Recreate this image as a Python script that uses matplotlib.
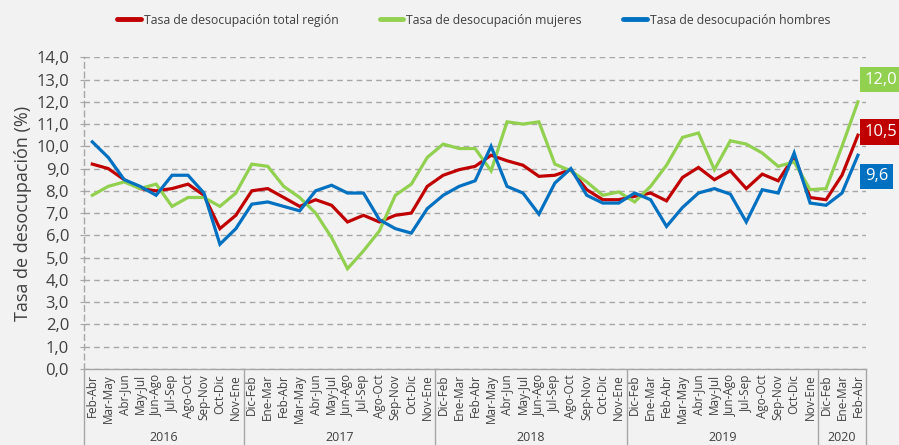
import matplotlib
matplotlib.use("Agg")
import matplotlib.pyplot as plt
from matplotlib.lines import Line2D
import matplotlib.transforms as mtransforms

plt.rcParams['font.family'] = ['Open Sans', 'DejaVu Sans']

# ---------------- data ----------------
periodos = (["Feb-Abr", "Mar-May", "Abr-Jun", "May-Jul", "Jun-Ago", "Jul-Sep",
             "Ago-Oct", "Sep-Nov", "Oct-Dic", "Nov-Ene"] +
            ["Dic-Feb", "Ene-Mar", "Feb-Abr", "Mar-May", "Abr-Jun", "May-Jul",
             "Jun-Ago", "Jul-Sep", "Ago-Oct", "Sep-Nov", "Oct-Dic", "Nov-Ene"] * 3 +
            ["Dic-Feb", "Ene-Mar", "Feb-Abr"])
anios = ["2016", "2017", "2018", "2019", "2020"]
periodos_por_anio = [10, 12, 12, 12, 3]

total = [9.2, 9.0, 8.5, 8.1, 8.0, 8.1, 8.3, 7.8, 6.3, 6.9,
         8.0, 8.1, 7.7, 7.3, 7.6, 7.35, 6.6, 6.9, 6.6, 6.9, 7.0, 8.2,
         8.7, 8.95, 9.1, 9.6, 9.35, 9.15, 8.65, 8.7, 8.95, 8.05, 7.6, 7.6,
         7.75, 7.9, 7.55, 8.6, 9.05, 8.5, 8.9, 8.1, 8.75, 8.45, 9.55, 7.7,
         7.6, 8.7, 10.5]
mujeres = [7.8, 8.2, 8.4, 8.1, 8.3, 7.3, 7.7, 7.7, 7.3, 7.9,
           9.2, 9.1, 8.2, 7.7, 7.0, 5.9, 4.5, 5.3, 6.2, 7.8, 8.3, 9.5,
           10.1, 9.9, 9.9, 8.9, 11.1, 11.0, 11.1, 9.2, 8.9, 8.4, 7.8, 7.95,
           7.5, 8.2, 9.15, 10.4, 10.6, 8.95, 10.25, 10.1, 9.7, 9.1, 9.3, 8.05,
           8.1, 10.0, 12.0]
hombres = [10.2, 9.5, 8.5, 8.2, 7.8, 8.7, 8.7, 7.9, 5.6, 6.3,
           7.4, 7.5, 7.3, 7.1, 8.0, 8.25, 7.9, 7.9, 6.7, 6.3, 6.1, 7.2,
           7.8, 8.2, 8.45, 10.0, 8.2, 7.9, 6.95, 8.35, 9.0, 7.8, 7.45, 7.45,
           7.9, 7.6, 6.4, 7.25, 7.9, 8.1, 7.85, 6.6, 8.05, 7.9, 9.7, 7.45,
           7.35, 7.9, 9.6]

series_nombres = ["Tasa de desocupación total región",
                  "Tasa de desocupación mujeres",
                  "Tasa de desocupación hombres"]
colores = ["#C00000", "#92D050", "#0070C0"]
series = [total, mujeres, hombres]
label_y = [10.65, 13.0, 8.65]   # vertical placement of the end labels

# ---------------- figure ----------------
BG = "#F2F2F2"
TXT = "#404040"
GRID = "#A6A6A6"
fig = plt.figure(figsize=(8.99, 4.45), dpi=100, facecolor=BG)
ax_left, ax_bottom, ax_w, ax_h = 0.0938, 0.1712, 0.8694, 0.7000
ax = fig.add_axes([ax_left, ax_bottom, ax_w, ax_h], facecolor=BG)

x = list(range(len(periodos)))
for vals, col in zip(series, colores):
    ax.plot(x, vals, color=col, lw=2.3, solid_joinstyle='miter', zorder=3,
            clip_on=False)

ax.set_xlim(-0.5, len(periodos) - 0.5)
ax.set_ylim(0, 14)
ax.set_yticks(range(0, 15))
ax.set_yticklabels([f"{v:.1f}".replace(".", ",") for v in range(0, 15)],
                   fontsize=12, color=TXT)
ax.yaxis.grid(True, color=GRID, ls=(0, (4, 3)), lw=1.0)
ax.set_axisbelow(True)
ax.tick_params(axis='y', length=3, color=GRID, pad=8)

ax.set_xticks(x)
ax.set_xticklabels(periodos, rotation=90, fontsize=8.5, color=TXT, va='top')
ax.tick_params(axis='x', length=0, pad=4)

for s in ['top', 'right']:
    ax.spines[s].set_visible(False)
ax.spines['left'].set_color(GRID)
ax.spines['left'].set_linestyle((0, (4, 3)))
ax.spines['left'].set_linewidth(1.0)
ax.spines['bottom'].set_color(GRID)
ax.spines['bottom'].set_linewidth(1.0)

ax.set_ylabel("Tasa de desocupación (%)", fontsize=13, color=TXT, labelpad=3)

# year group separators and labels
trans = mtransforms.blended_transform_factory(ax.transData, fig.transFigure)
bounds = [-0.5]
for n in periodos_por_anio:
    bounds.append(bounds[-1] + n)
for b in bounds:
    fig.add_artist(Line2D([b, b], [0, ax_bottom], transform=trans,
                          color=GRID, lw=1.0))
for i, a in enumerate(anios):
    c = (bounds[i] + bounds[i + 1]) / 2
    fig.text(c, 0.016, a, transform=trans, ha='center', va='center',
             fontsize=9, color=TXT)

# end labels
for vals, col, ly in zip(series, colores, label_y):
    ax.annotate(f"{vals[-1]:.1f}".replace(".", ","),
                xy=(len(vals) - 1, ly), xytext=(5, 0), textcoords='offset points',
                ha='left', va='center', fontsize=12, color='white',
                annotation_clip=False,
                bbox=dict(boxstyle='square,pad=0.28', fc=col, ec='none'))

# legend
handles = [Line2D([0], [0], color=c, lw=3.5, solid_capstyle='round')
           for c in colores]
fig.legend(handles, series_nombres, loc='center', ncol=3,
           bbox_to_anchor=(0.527, 0.955), frameon=False, fontsize=8.8,
           handlelength=1.9, handletextpad=0.25, columnspacing=3.4,
           labelcolor=TXT)

fig.savefig("out.png", dpi=100, facecolor=BG)
